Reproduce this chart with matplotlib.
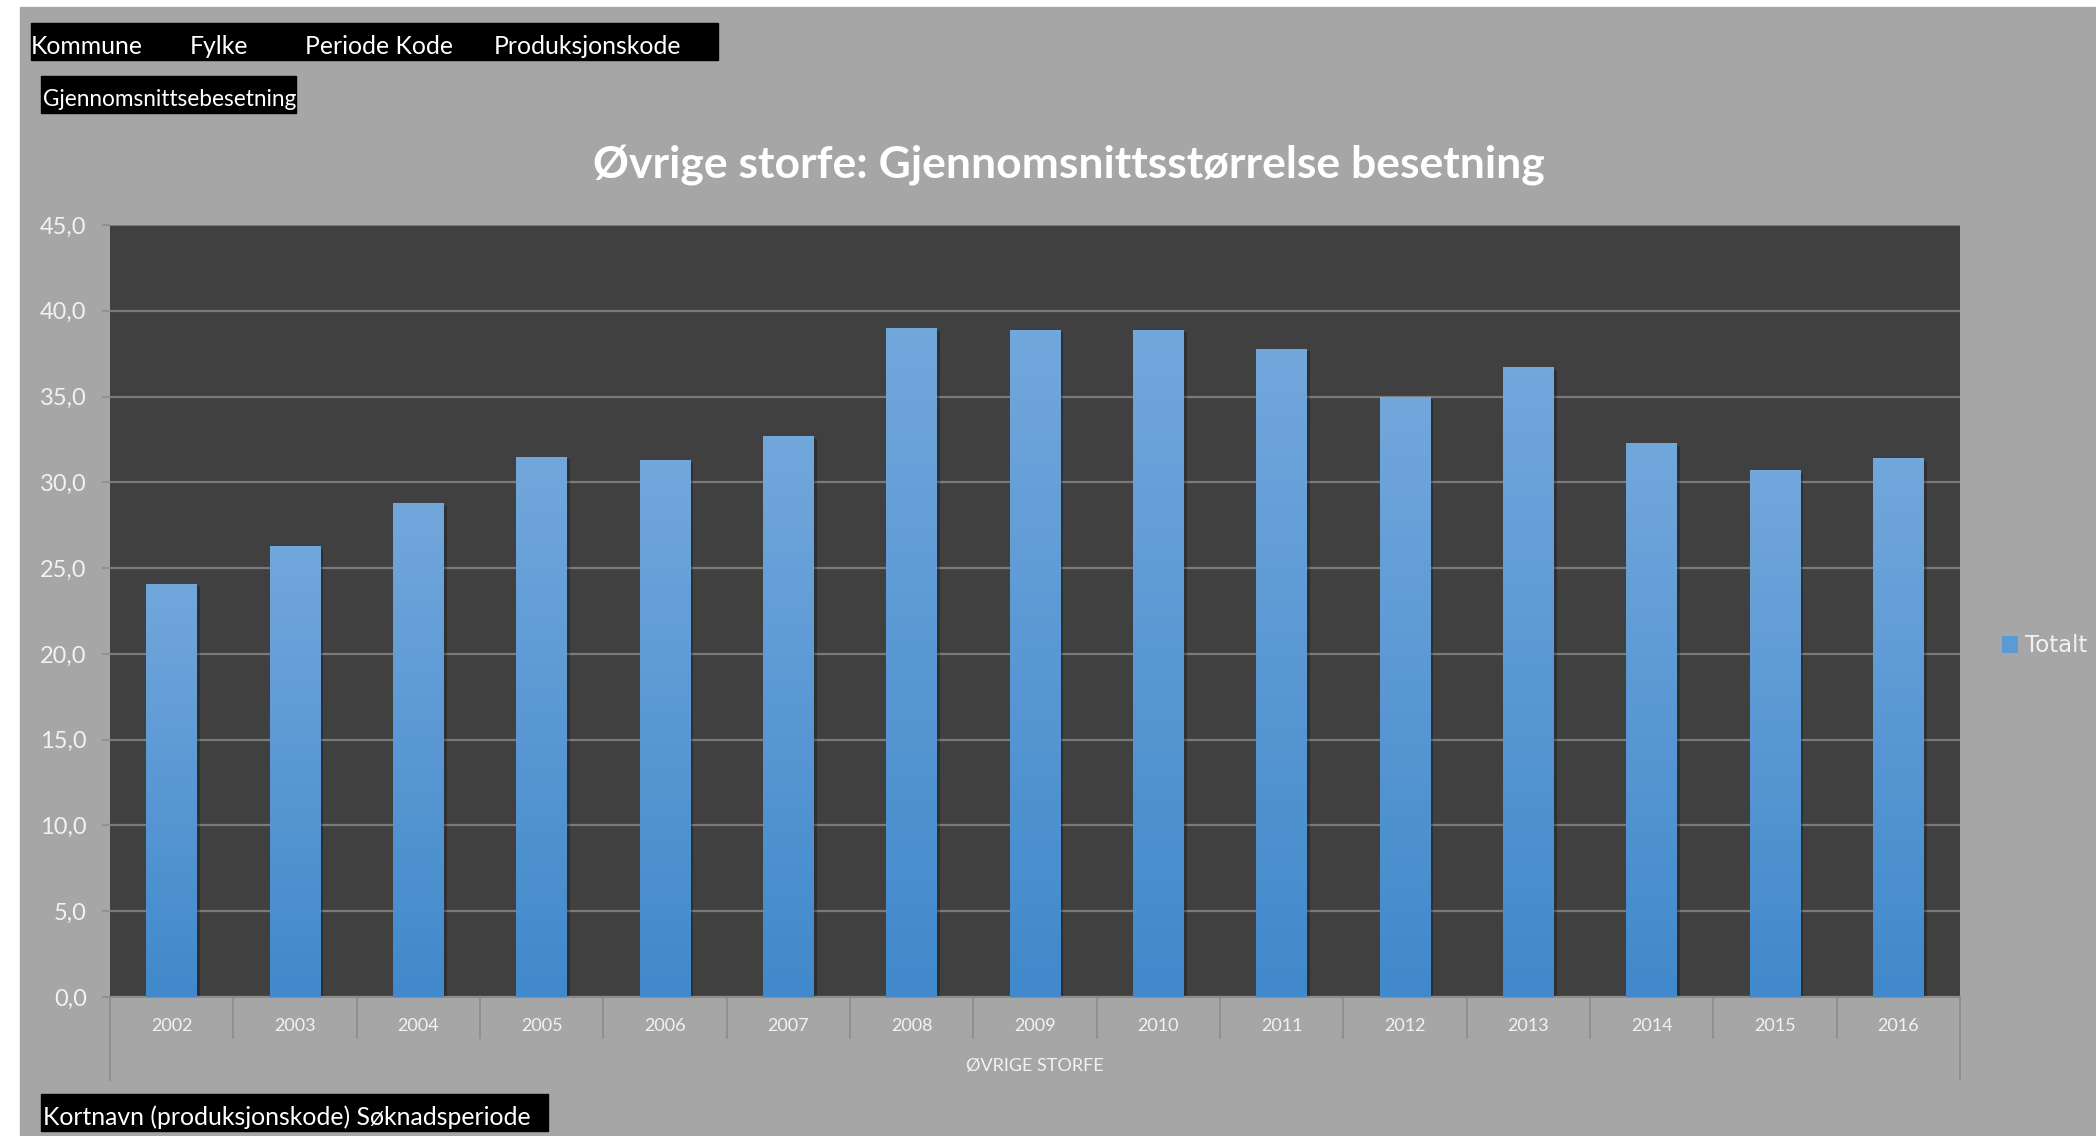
import numpy as np
import matplotlib.pyplot as plt
import matplotlib.patheffects as pe
from matplotlib.colors import LinearSegmentedColormap
from matplotlib.patches import Rectangle, Patch

plt.rcParams['font.family'] = ['Lato', 'DejaVu Sans']

# --- data ---
aar = ['2002', '2003', '2004', '2005', '2006', '2007', '2008', '2009',
       '2010', '2011', '2012', '2013', '2014', '2015', '2016']
totalt = [24.1, 26.3, 28.8, 31.5, 31.3, 32.7, 39.0, 38.9,
          38.9, 37.8, 35.0, 36.7, 32.3, 30.7, 31.4]
y_ticks = [0, 5, 10, 15, 20, 25, 30, 35, 40, 45]

tittel = 'Øvrige storfe: Gjennomsnittsstørrelse besetning'
filterfelt = ['Kommune', 'Fylke', 'Periode Kode', 'Produksjonskode']

W, H = 2096, 1136
BG = '#a6a6a6'
PLOT_BG = '#404040'
LINE = '#8c8c8c'
TXT = '#f2f2f2'


def rect_px(x0, y0, x1, y1):
    # pikselkoordinater (fra øverst til venstre) -> figurkoordinater
    return [x0 / W, 1 - y1 / H, (x1 - x0) / W, (y1 - y0) / H]


fig = plt.figure(figsize=(W / 100, H / 100), dpi=100, facecolor='white')

# grå bakgrunn (litt hvit kant oppe og til venstre)
fig.patches.append(Rectangle((20 / W, 0), 1 - 20 / W, 1 - 7 / H,
                             transform=fig.transFigure, color=BG, zorder=-10))


def svart_boks(x0, y0, x1, y1):
    fig.patches.append(Rectangle((x0 / W, 1 - y1 / H), (x1 - x0) / W, (y1 - y0) / H,
                                 transform=fig.transFigure, color='black', zorder=1))


# filterknapper øverst
svart_boks(31, 23, 718, 60)
for navn, xp in zip(filterfelt, [31, 190, 305, 494]):
    fig.text(xp / W, 1 - 47 / H, navn, color='white', fontsize=17.8,
             ha='left', va='center', zorder=2)

svart_boks(41, 76, 296, 113)
fig.text(43 / W, 1 - 100 / H, 'Gjennomsnittsebesetning', color='white', fontsize=16.3,
         ha='left', va='center', zorder=2)

svart_boks(41, 1094, 548, 1131)
fig.text(43 / W, 1 - 1117 / H, 'Kortnavn (produksjonskode) Søknadsperiode',
         color='white', fontsize=17.8, ha='left', va='center', zorder=2)

# tittel
fig.text(1069 / W, 1 - 166 / H, tittel, ha='center', va='center',
         fontsize=32, fontweight='bold', color='white')

# --- selve diagrammet ---
ax = fig.add_axes(rect_px(110, 225, 1960, 997))
ax.set_facecolor(PLOT_BG)

x = np.arange(len(aar))
bars = ax.bar(x, totalt, width=0.413, color='#5b9bd5', zorder=2, label='Totalt')

# gradient i søylene + myk skygge
cmap = LinearSegmentedColormap.from_list('blaa', ['#4189cb', '#72a7dc'])
grad = np.linspace(0, 1, 128).reshape(-1, 1)
for b in bars:
    b.set_path_effects([pe.SimplePatchShadow(offset=(2, -2), shadow_rgbFace='black', alpha=0.25),
                        pe.Normal()])
    im = ax.imshow(grad, cmap=cmap, origin='lower', aspect='auto', zorder=3,
                   extent=[b.get_x(), b.get_x() + b.get_width(), 0, b.get_height()])
    im.set_clip_path(b)

ax.set_xlim(-0.5, len(aar) - 0.5)
ax.set_ylim(0, 45)
ax.set_axisbelow(True)
ax.yaxis.grid(True, color='#7a7a7a', linewidth=1.6)

ax.set_yticks(y_ticks)
ax.set_yticklabels([f'{v:.1f}'.replace('.', ',') for v in y_ticks])
ax.tick_params(axis='y', length=5.8, width=1.2, color=LINE, labelcolor=TXT,
               labelsize=17, pad=11)

ax.set_xticks(x)
ax.set_xticklabels(aar)
ax.tick_params(axis='x', which='major', length=0, labelcolor=TXT, labelsize=13, pad=15)
ax.set_xticks(np.arange(0.5, len(aar) - 1, 1), minor=True)
ax.tick_params(axis='x', which='minor', length=30, width=1.2, color=LINE, direction='out')

for s in ['left', 'right', 'top']:
    ax.spines[s].set_visible(False)
ax.spines['bottom'].set_color(LINE)
ax.spines['bottom'].set_linewidth(1.5)

# lange ytterlinjer under aksen
for xv in [-0.5, len(aar) - 0.5]:
    ax.axvline(xv, ymin=-83 / 772, ymax=0, color=LINE, linewidth=1.2, clip_on=False)

fig.text(1035 / W, 1 - 1066 / H, 'ØVRIGE STORFE', ha='center', va='center',
         fontsize=13, color=TXT)

# forklaring
fig.legend(handles=[Patch(facecolor='#5b9bd5')], labels=['Totalt'], loc='center left',
           bbox_to_anchor=(2002 / W, 1 - 646 / H), frameon=False,
           prop={'family': 'DejaVu Sans', 'size': 16.5}, labelcolor=TXT,
           handlelength=0.7, handleheight=0.7, handletextpad=0.3,
           borderpad=0, borderaxespad=0)

fig.savefig('out.png', dpi=100)
